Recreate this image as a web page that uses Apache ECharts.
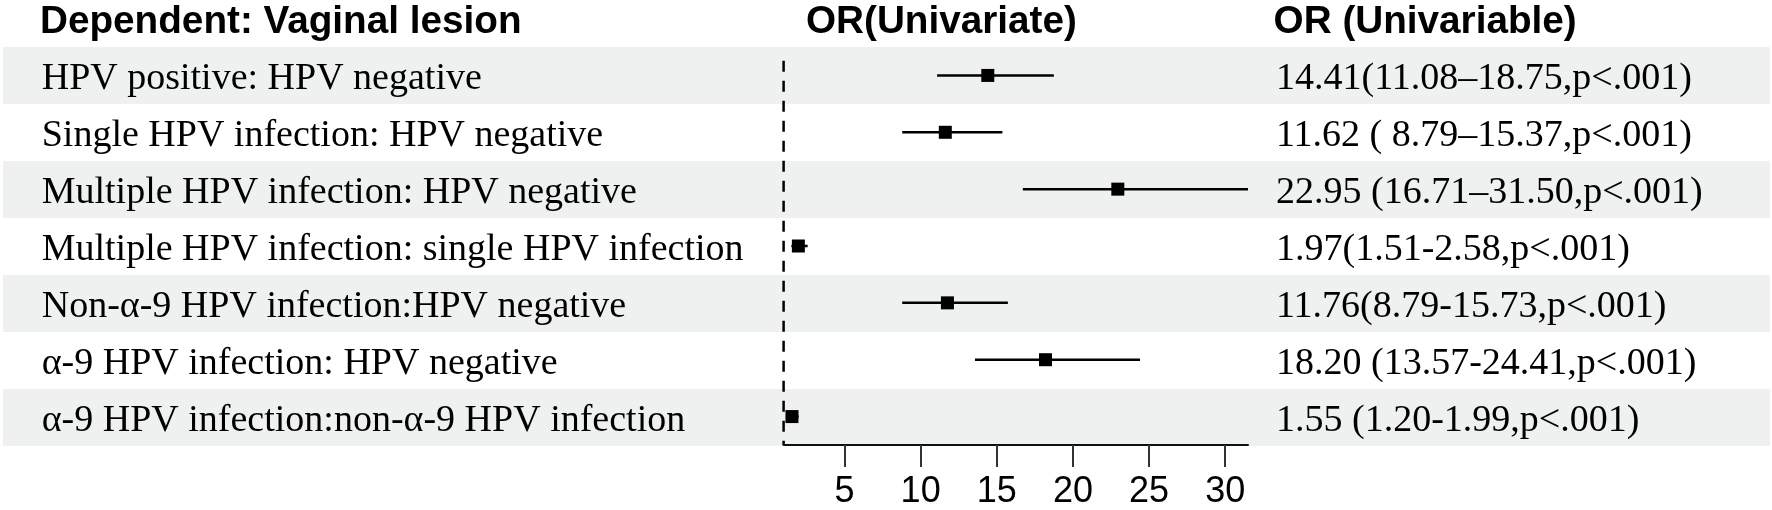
<!DOCTYPE html>
<html><head><meta charset="utf-8">
<script src="https://cdn.jsdelivr.net/npm/echarts@6/dist/echarts.min.js"></script>
<style>html,body{margin:0;padding:0;background:#fff}#c{width:1772px;height:510px}</style>
</head><body><div id="c"></div>
<script>
const rowLabels = [
  'HPV positive: HPV negative',
  'Single HPV infection: HPV negative',
  'Multiple HPV infection: HPV negative',
  'Multiple HPV infection: single HPV infection',
  'Non-\u03b1-9 HPV infection:HPV negative',
  '\u03b1-9 HPV infection: HPV negative',
  '\u03b1-9 HPV infection:non-\u03b1-9 HPV infection'
];
const orValues = [14.41, 11.62, 22.95, 1.97, 11.76, 18.20, 1.55];
const ciLow = [11.08, 8.79, 16.71, 1.51, 8.79, 13.57, 1.20];
const ciHigh = [18.75, 15.37, 31.50, 2.58, 15.73, 24.41, 1.99];
const orTexts = [
  '14.41(11.08\u201318.75,p<.001)',
  '11.62 ( 8.79\u201315.37,p<.001)',
  '22.95 (16.71\u201331.50,p<.001)',
  '1.97(1.51-2.58,p<.001)',
  '11.76(8.79-15.73,p<.001)',
  '18.20 (13.57-24.41,p<.001)',
  '1.55 (1.20-1.99,p<.001)'
];
const xTicks = [5, 10, 15, 20, 25, 30];
const headers = ['Dependent: Vaginal lesion', 'OR(Univariate)', 'OR (Univariable)'];
const refValue = 1;

const TOP = 47, BOTTOM = 64;
const SERIF = '"Liberation Serif", "Times New Roman", serif';
const SANS = '"Liberation Sans", Arial, sans-serif';
const SERIF_SIZE = 38;
const HEAD_SIZE = 38.7;

const chart = echarts.init(document.getElementById('c'), null, {renderer: 'canvas'});
const rowIdx = rowLabels.map((_, i) => i);
const headerX = [40, 806, 1273.6];

const option = {
  animation: false,
  backgroundColor: '#ffffff',
  grid: [
    {left: 3, right: 2, top: TOP, bottom: BOTTOM},
    {left: 783.6, right: 524, top: TOP, bottom: BOTTOM}
  ],
  xAxis: [
    {type: 'value', gridIndex: 0, min: 0, max: 1767, show: false},
    {type: 'value', gridIndex: 1, min: 1, max: 31.5, position: 'bottom',
      axisLine: {show: true, onZero: false, lineStyle: {color: '#111', width: 2}},
      axisTick: {show: true, length: 22, customValues: xTicks, lineStyle: {color: '#333', width: 2}},
      axisLabel: {show: true, customValues: xTicks, fontSize: 36, fontFamily: SANS, color: '#000', margin: 29},
      splitLine: {show: false}
    }
  ],
  yAxis: [
    {type: 'category', gridIndex: 0, data: rowLabels, inverse: true,
      axisLine: {show: false}, axisTick: {show: false}, axisLabel: {show: false},
      splitLine: {show: false},
      splitArea: {show: true, areaStyle: {color: ['#eef1f0', 'rgba(255,255,255,0)']}}
    },
    {type: 'value', gridIndex: 1, min: -0.5, max: 6.5, inverse: true, show: false}
  ],
  graphic: headers.map((h, k) => ({
    type: 'text', x: headerX[k], y: 22, z: 100,
    style: {text: h, font: 'bold ' + HEAD_SIZE + 'px ' + SANS, fill: '#000', verticalAlign: 'middle', align: 'left'}
  })),
  series: [
    {
      type: 'custom', xAxisIndex: 0, yAxisIndex: 0,
      data: rowIdx.map(i => [0, i]),
      renderItem: function (params, api) {
        const i = api.value(1);
        const y = api.coord([0, i])[1] + 4;
        return {type: 'group', children: [
          {type: 'text', x: 41.7, y: y,
            style: {text: rowLabels[i], font: SERIF_SIZE + 'px ' + SERIF, fill: '#000', verticalAlign: 'middle', align: 'left'}},
          {type: 'text', x: 1276, y: y,
            style: {text: orTexts[i], font: SERIF_SIZE + 'px ' + SERIF, fill: '#000', verticalAlign: 'middle', align: 'left'}}
        ]};
      },
      silent: true
    },
    {
      type: 'line', xAxisIndex: 1, yAxisIndex: 1,
      data: [[refValue, -0.26], [refValue, 6.5]],
      symbol: 'none',
      lineStyle: {color: '#000', width: 2.5, type: [11, 9]},
      silent: true
    },
    {
      type: 'custom', xAxisIndex: 1, yAxisIndex: 1,
      data: rowIdx.map(i => [ciLow[i], ciHigh[i], orValues[i], i]),
      encode: {x: [0, 1, 2], y: 3},
      clip: false,
      renderItem: function (params, api) {
        const r = api.value(3);
        const lo = api.coord([api.value(0), r]);
        const hi = api.coord([api.value(1), r]);
        const c = api.coord([api.value(2), r]);
        return {type: 'group', children: [
          {type: 'line', shape: {x1: lo[0], y1: lo[1], x2: hi[0], y2: hi[1]}, style: {stroke: '#000', lineWidth: 2.5}},
          {type: 'rect', shape: {x: c[0] - 6.5, y: c[1] - 6.5, width: 13, height: 13}, style: {fill: '#000'}}
        ]};
      },
      silent: true
    }
  ]
};
chart.setOption(option);
</script>
</body></html>
